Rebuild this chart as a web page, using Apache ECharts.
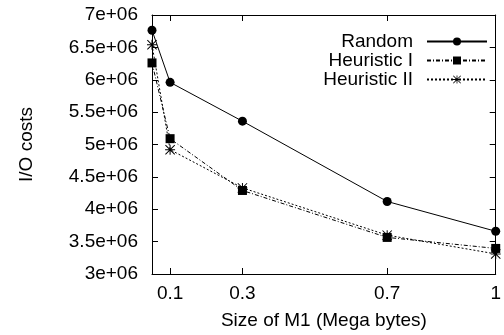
<!DOCTYPE html>
<html>
<head>
<meta charset="utf-8">
<script src="https://cdn.jsdelivr.net/npm/echarts@6/dist/echarts.min.js"></script>
<style>
  html, body { margin: 0; padding: 0; background: #fff; }
  #chart { width: 504px; height: 335px; }
</style>
</head>
<body>
<div id="chart"></div>
<script>
var sizes = [0.05, 0.1, 0.3, 0.7, 1];
var randomCost = [6.765e6, 5.96e6, 5.36e6, 4.12e6, 3.66e6];
var heuristic1Cost = [6.26e6, 5.09e6, 4.29e6, 3.565e6, 3.395e6];
var heuristic2Cost = [6.54e6, 4.92e6, 4.33e6, 3.6e6, 3.31e6];
var xTicks = [0.1, 0.3, 0.7, 1];
var seriesNames = ["Random", "Heuristic I", "Heuristic II"];

var font = "Liberation Sans";
var fs = 19;

// gnuplot style asterisk (+ and x)
var starPath = "path://M0 9H20V11H0Z M9 0H11V20H9Z M1.4 0L20 18.6L18.6 20L0 1.4Z M18.6 0L20 1.4L1.4 20L0 18.6Z";

function pairs(ys) {
  return sizes.map(function (x, i) { return [x, ys[i]]; });
}

var myChart = echarts.init(document.getElementById("chart"));

var tickStyle = { show: true, inside: true, length: 6, lineStyle: { color: "#000", width: 1 } };
var lineAxis = { show: true, onZero: false, lineStyle: { color: "#000", width: 1 } };

var option = {
  backgroundColor: "#fff",
  animation: false,
  grid: { left: 152, right: 4, top: 15, bottom: 60, containLabel: false },
  legend: {
    orient: "vertical",
    right: 16,
    top: 32,
    padding: 0,
    align: "right",
    itemWidth: 60,
    itemHeight: 10,
    itemGap: 0,
    textStyle: { fontFamily: font, fontSize: fs, color: "#000", padding: [0, 9, 0, 0] },
    data: seriesNames
  },
  xAxis: [
    {
      type: "value",
      min: 0.05,
      max: 1,
      axisLine: lineAxis,
      axisTick: Object.assign({ customValues: xTicks }, tickStyle),
      axisLabel: {
        customValues: xTicks,
        margin: 10,
        fontFamily: font,
        fontSize: fs,
        color: "#000"
      },
      splitLine: { show: false },
      name: "Size of M1 (Mega bytes)",
      nameLocation: "middle",
      nameGap: 37,
      nameTextStyle: { fontFamily: font, fontSize: fs, color: "#000" }
    },
    {
      type: "value",
      position: "top",
      min: 0.05,
      max: 1,
      axisLine: lineAxis,
      axisTick: Object.assign({ customValues: xTicks }, tickStyle),
      axisLabel: { show: false },
      splitLine: { show: false }
    }
  ],
  yAxis: [
    {
      type: "value",
      min: 3e6,
      max: 7e6,
      interval: 5e5,
      axisLine: lineAxis,
      axisTick: tickStyle,
      axisLabel: {
        margin: 14,
        fontFamily: font,
        fontSize: fs,
        color: "#000",
        formatter: function (v) { return (v / 1e6) + "e+06"; }
      },
      splitLine: { show: false },
      name: "I/O costs",
      nameLocation: "middle",
      nameGap: 116,
      nameTextStyle: { fontFamily: font, fontSize: fs, color: "#000" }
    },
    {
      type: "value",
      position: "right",
      min: 3e6,
      max: 7e6,
      interval: 5e5,
      axisLine: lineAxis,
      axisTick: tickStyle,
      axisLabel: { show: false },
      splitLine: { show: false }
    }
  ],
  series: [
    {
      name: seriesNames[0],
      type: "line",
      data: pairs(randomCost),
      symbol: "circle",
      symbolSize: 9,
      lineStyle: { color: "#000", width: 1, type: "solid" },
      itemStyle: { color: "#000" },
      z: 2
    },
    {
      name: seriesNames[1],
      type: "line",
      data: pairs(heuristic1Cost),
      symbol: "rect",
      symbolSize: 9,
      lineStyle: { color: "#000", width: 1, type: [4, 2, 1, 2] },
      itemStyle: { color: "#000" },
      z: 3
    },
    {
      name: seriesNames[2],
      type: "line",
      data: pairs(heuristic2Cost),
      symbol: starPath,
      symbolSize: 10,
      lineStyle: { color: "#000", width: 1, type: [2, 2] },
      itemStyle: { color: "#000" },
      z: 4
    }
  ]
};

myChart.setOption(option);
</script>
</body>
</html>
